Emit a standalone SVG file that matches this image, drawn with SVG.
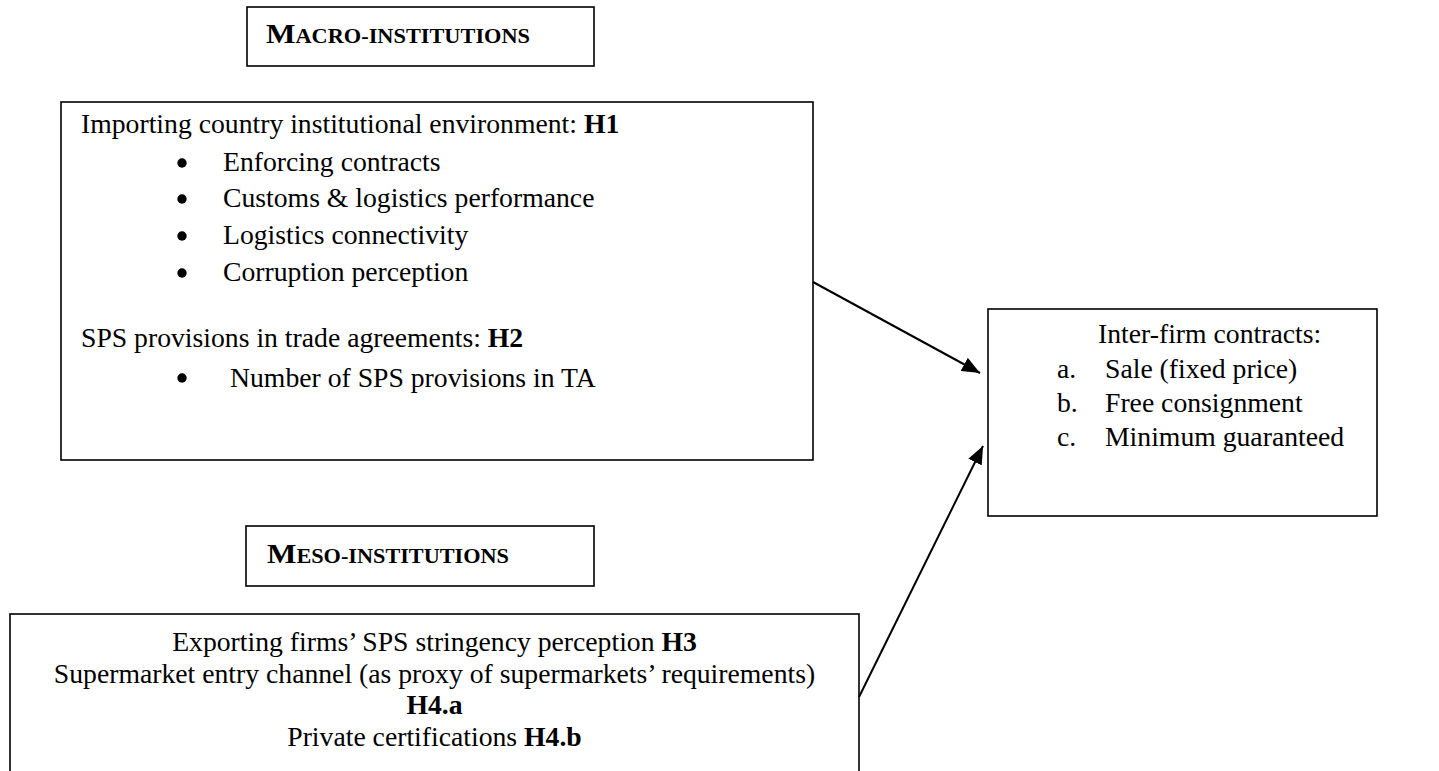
<svg xmlns="http://www.w3.org/2000/svg" width="1439" height="771" viewBox="0 0 1439 771">
<style>
.box{fill:#fff;stroke:#000;stroke-width:1.6}
.t{font-family:"Liberation Serif","Times New Roman",serif;font-size:27.7px;fill:#000}
.b{font-weight:bold}
.c{text-anchor:middle}
.dot{fill:#000}
.sc{font-family:"Liberation Serif","Times New Roman",serif;font-weight:bold;fill:#000;font-size:20px}
.big{font-size:28px}
.edge{stroke:#000;stroke-width:2;fill:none}
</style>
<defs>
<marker id="ah" markerUnits="userSpaceOnUse" markerWidth="19" markerHeight="15" refX="18" refY="7.5" orient="auto">
<path d="M0,0 L18,7.5 L0,15 z" fill="#000"/>
</marker>
</defs>
<rect width="1439" height="771" fill="#fff"/>
<g id="macro-label">
<rect class="box" x="247" y="7" width="347" height="59"/>
<text class="sc" x="266" y="43" textLength="264" lengthAdjust="spacingAndGlyphs"><tspan class="big">M</tspan>ACRO-INSTITUTIONS</text>
</g>
<g id="macro-box">
<rect class="box" x="61" y="102" width="752" height="358"/>
<text class="t" x="81" y="133">Importing country institutional environment: <tspan class="b">H1</tspan></text>
<circle class="dot" cx="182" cy="163" r="4.7"/>
<text class="t" x="223" y="171">Enforcing contracts</text>
<circle class="dot" cx="182" cy="199" r="4.7"/>
<text class="t" x="223" y="207">Customs &amp; logistics performance</text>
<circle class="dot" cx="182" cy="236" r="4.7"/>
<text class="t" x="223" y="244">Logistics connectivity</text>
<circle class="dot" cx="182" cy="273" r="4.7"/>
<text class="t" x="223" y="281">Corruption perception</text>
<text class="t" x="81" y="347">SPS provisions in trade agreements: <tspan class="b">H2</tspan></text>
<circle class="dot" cx="182" cy="378" r="4.7"/>
<text class="t" x="230" y="387">Number of SPS provisions in TA</text>
</g>
<g id="contracts-box">
<rect class="box" x="988" y="309" width="389" height="207"/>
<text class="t" x="1098" y="343">Inter-firm contracts:</text>
<text class="t" x="1057" y="378">a.</text>
<text class="t" x="1105" y="378">Sale (fixed price)</text>
<text class="t" x="1057" y="412">b.</text>
<text class="t" x="1105" y="412">Free consignment</text>
<text class="t" x="1057" y="446">c.</text>
<text class="t" x="1105" y="446">Minimum guaranteed</text>
</g>
<g id="meso-label">
<rect class="box" x="246" y="526" width="348" height="60"/>
<text class="sc" x="267" y="563" textLength="242" lengthAdjust="spacingAndGlyphs"><tspan class="big">M</tspan>ESO-INSTITUTIONS</text>
</g>
<g id="meso-box">
<rect class="box" x="10" y="614" width="849" height="180"/>
<text class="t c" x="434.5" y="651">Exporting firms’ SPS stringency perception <tspan class="b">H3</tspan></text>
<text class="t c" x="434.5" y="683">Supermarket entry channel (as proxy of supermarkets’ requirements)</text>
<text class="t c b" x="434.5" y="714">H4.a</text>
<text class="t c" x="434.5" y="746">Private certifications <tspan class="b">H4.b</tspan></text>
</g>
<g id="connectors">
<line class="edge" x1="813" y1="282" x2="980" y2="373" marker-end="url(#ah)"/>
<line class="edge" x1="859" y1="697" x2="983" y2="446" marker-end="url(#ah)"/>
</g>
</svg>
